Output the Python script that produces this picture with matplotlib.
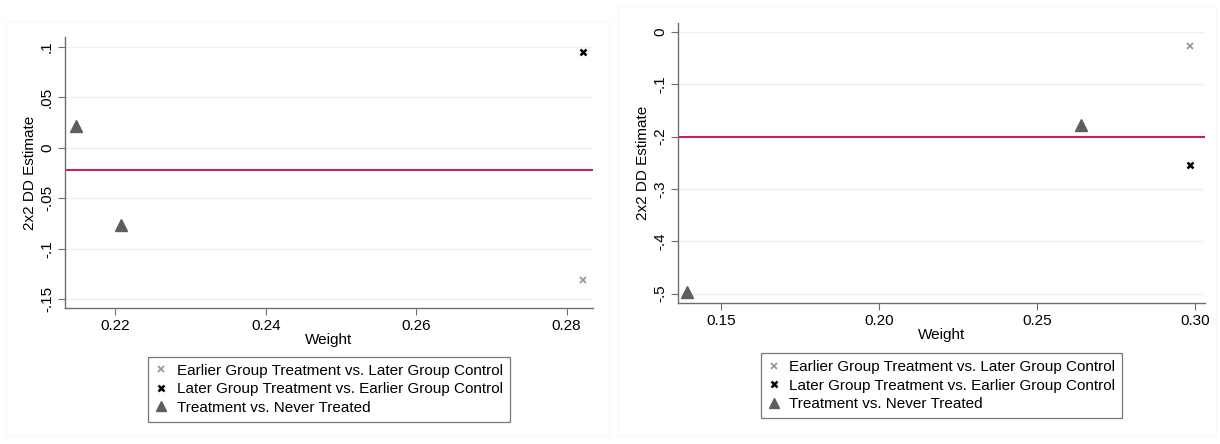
import matplotlib
matplotlib.use("Agg")
import matplotlib.pyplot as plt
from matplotlib.patches import Rectangle

plt.rcParams.update({
    "font.family": ["Liberation Sans", "DejaVu Sans"],
    "font.size": 11,
})

W, H = 1220, 444

LABELS = [
    "Earlier Group Treatment vs. Later Group Control",
    "Later Group Treatment vs. Earlier Group Control",
    "Treatment vs. Never Treated",
]

# left panel
l_earlier_x = [0.2822]
l_earlier_y = [-0.131]
l_later_x = [0.2822]
l_later_y = [0.0948]
l_never_x = [0.2147, 0.2208]
l_never_y = [0.0218, -0.0761]
l_overall = -0.0225
l_xticks = [0.22, 0.24, 0.26, 0.28]
l_xticklabels = ["0.22", "0.24", "0.26", "0.28"]
l_yticks = [0.1, 0.05, 0, -0.05, -0.1, -0.15]
l_yticklabels = [".1", ".05", "0", "-.05", "-.1", "-.15"]

# right panel
r_earlier_x = [0.2984]
r_earlier_y = [-0.0275]
r_later_x = [0.2984]
r_later_y = [-0.2532]
r_never_x = [0.1395, 0.2638]
r_never_y = [-0.4968, -0.1778]
r_overall = -0.2
r_xticks = [0.15, 0.20, 0.25, 0.30]
r_xticklabels = ["0.15", "0.20", "0.25", "0.30"]
r_yticks = [0, -0.1, -0.2, -0.3, -0.4, -0.5]
r_yticklabels = ["0", "-.1", "-.2", "-.3", "-.4", "-.5"]

fig = plt.figure(figsize=(W / 100, H / 100), dpi=100)

# faint panel borders
fig.patches.append(Rectangle((6 / W, 0.02), (609 - 6) / W, (444 - 21) / H - 0.02,
                             transform=fig.transFigure, fill=False, edgecolor="#f7f7f7", lw=0.8))
fig.patches.append(Rectangle((618 / W, 0.02), (1216 - 618) / W, (444 - 6) / H - 0.02,
                             transform=fig.transFigure, fill=False, edgecolor="#f7f7f7", lw=0.8))


def px_axes(x0, x1, y0, y1):
    return fig.add_axes([x0 / W, 1 - y1 / H, (x1 - x0) / W, (y1 - y0) / H])


def draw(ax, ex, ey, lx, ly, nx, ny, overall, xlim, ylim, xt, xtl, yt, ytl, leg_y):
    ax.grid(axis="y", color="#eaf2f3", lw=1.0, zorder=0)
    ax.axhline(overall, color="#d41848", lw=1.4, zorder=2)
    h1, = ax.plot(ex, ey, "x", color="#9a9a9a", ms=5, mew=1.3, ls="none", zorder=3)
    h2, = ax.plot(lx, ly, "x", color="#000000", ms=5, mew=1.8, ls="none", zorder=3)
    h3, = ax.plot(nx, ny, "^", color="#5e5e5e", ms=8, ls="none", zorder=3)
    ax.set_xlim(*xlim)
    ax.set_ylim(*ylim)
    ax.set_xticks(xt)
    ax.set_xticklabels(xtl)
    ax.set_yticks(yt)
    ax.set_yticklabels(ytl, rotation=90, va="center")
    for s in ["top", "right"]:
        ax.spines[s].set_visible(False)
    for s in ["left", "bottom"]:
        ax.spines[s].set_color("#6e6e6e")
        ax.spines[s].set_linewidth(1.0)
    ax.tick_params(direction="out", length=5, color="#6e6e6e", labelsize=11, pad=3)
    ax.set_xlabel("Weight", fontsize=11, labelpad=0)
    ax.set_ylabel("2x2 DD Estimate", fontsize=11, labelpad=2)
    leg = ax.legend([h1, h2, h3], LABELS, loc="upper center", bbox_to_anchor=(0.5, leg_y),
                    frameon=True, fancybox=False, fontsize=11, handlelength=0.8,
                    handletextpad=0.6, borderpad=0.45, labelspacing=0.3, markerscale=0.85,
                    borderaxespad=0)
    leg.get_frame().set_edgecolor("#555555")
    leg.get_frame().set_linewidth(0.9)


ax1 = px_axes(65, 593, 37, 308)
draw(ax1, l_earlier_x, l_earlier_y, l_later_x, l_later_y, l_never_x, l_never_y, l_overall,
     (0.2133, 0.2835), (-0.1586, 0.1096), l_xticks, l_xticklabels, l_yticks, l_yticklabels, -0.18)

ax2 = px_axes(678, 1205, 23, 303)
draw(ax2, r_earlier_x, r_earlier_y, r_later_x, r_later_y, r_never_x, r_never_y, r_overall,
     (0.1365, 0.3031), (-0.5178, 0.0172), r_xticks, r_xticklabels, r_yticks, r_yticklabels, -0.179)

fig.savefig("out.png", dpi=100)
